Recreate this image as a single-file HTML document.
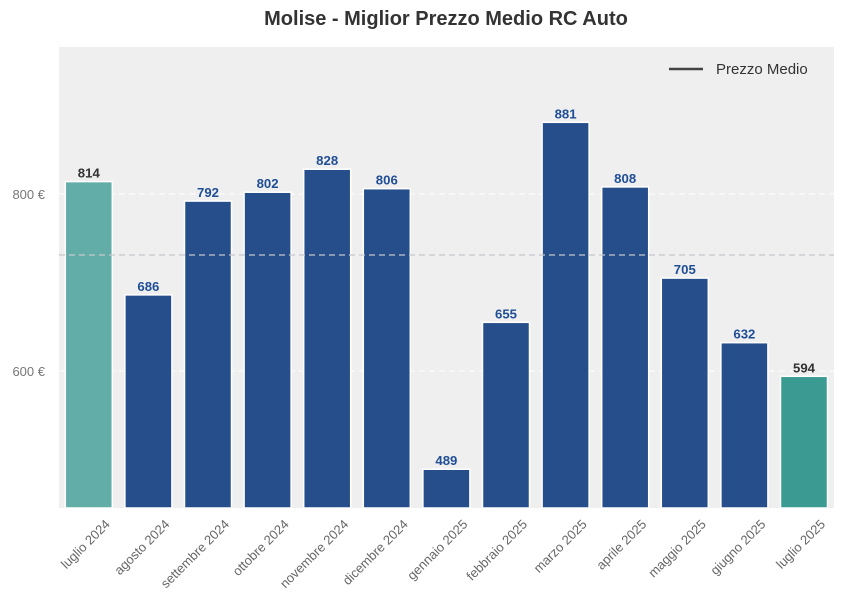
<!DOCTYPE html>
<html><head><meta charset="utf-8"><style>body{margin:0;background:#fff}svg{display:block;font-family:"Liberation Sans",Arial,sans-serif}</style></head>
<body>
<svg width="842" height="610" xmlns="http://www.w3.org/2000/svg">
<text x="446" y="25" text-anchor="middle" font-size="20" font-weight="bold" fill="#333">Molise - Miglior Prezzo Medio RC Auto</text>
<rect x="59" y="47" width="775" height="461" fill="#efeff0"/>
<line x1="59" x2="834" y1="194" y2="194" stroke="#fff" stroke-dasharray="6,4"/>
<line x1="59" x2="834" y1="371" y2="371" stroke="#fff" stroke-dasharray="6,4"/>
<text x="45" y="199" text-anchor="end" font-size="13" fill="#777">800 €</text>
<text x="45" y="376" text-anchor="end" font-size="13" fill="#777">600 €</text>
<g id="bars"></g>
<line x1="59" x2="834" y1="255" y2="255" stroke="#c8c8cc" stroke-width="1.2" stroke-dasharray="6,4"/>
<line x1="669" x2="703" y1="69" y2="69" stroke="#444" stroke-width="2.5"/>
<text x="716" y="74" font-size="15" fill="#333">Prezzo Medio</text>
</svg>
<script>
const d=[["luglio 2024",814,"#62ada8","#333"],["agosto 2024",686],["settembre 2024",792],["ottobre 2024",802],["novembre 2024",828],["dicembre 2024",806],["gennaio 2025",489],["febbraio 2025",655],["marzo 2025",881],["aprile 2025",808],["maggio 2025",705],["giugno 2025",632],["luglio 2025",594,"#3b9b92","#333"]];
let s="";
d.forEach((e,i)=>{const cx=88.8+i*59.6,y=194-(e[1]-800)*0.885,c=e[2]||"#254e8a",tc=e[3]||"#1f4e96";
s+=`<rect x="${cx-23.5}" y="${y}" width="47" height="${508-y}" fill="${c}" stroke="#fff" stroke-width="1.5"/>`;
s+=`<text x="${cx}" y="${y-4}" text-anchor="middle" font-size="13" font-weight="bold" fill="${tc}" textLength="22" lengthAdjust="spacingAndGlyphs">${e[1]}</text>`;
s+=`<text transform="translate(${cx+22},${525}) rotate(-45)" text-anchor="end" font-size="13" fill="#666">${e[0]}</text>`;});
document.getElementById("bars").innerHTML=s;
</script>
</body></html>
